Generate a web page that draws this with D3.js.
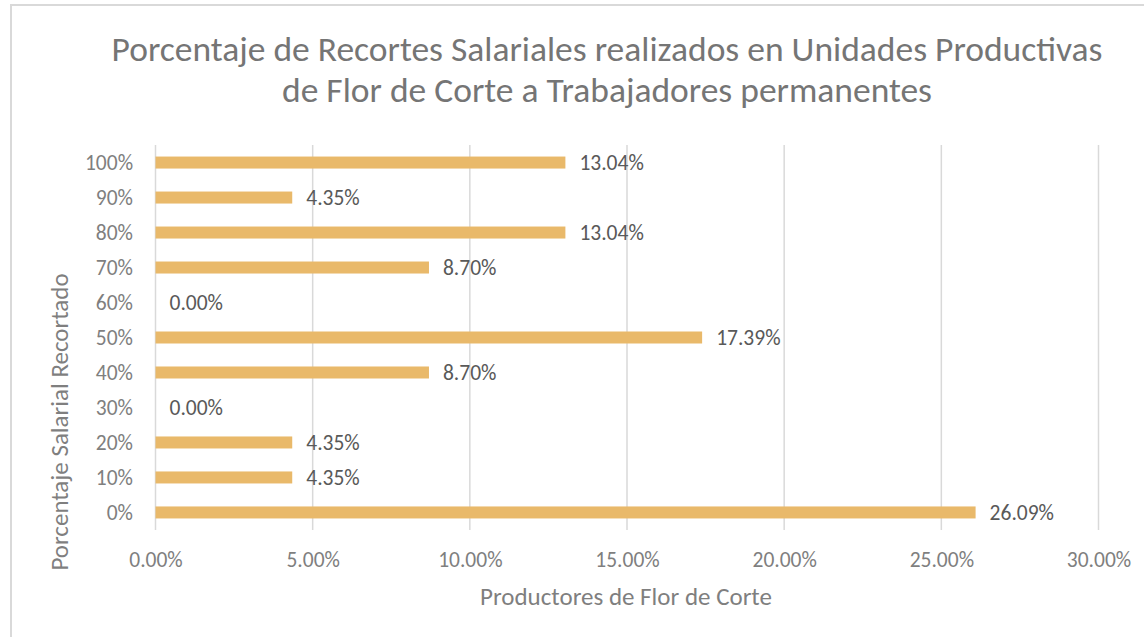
<!DOCTYPE html>
<html>
<head>
<meta charset="utf-8">
<script src="https://cdn.jsdelivr.net/npm/d3@7"></script>
<style>
  body { margin: 0; background: #fff; }
  svg text { font-family: Carlito, Calibri, Lato, sans-serif; }
</style>
</head>
<body>
<script>
var categories = ['0%','10%','20%','30%','40%','50%','60%','70%','80%','90%','100%'];
var values = [26.09, 4.35, 4.35, 0, 8.70, 17.39, 0, 8.70, 13.04, 4.35, 13.04];
var xTicks = [0, 5, 10, 15, 20, 25, 30];
var titleLines = ['Porcentaje de Recortes Salariales realizados en Unidades Productivas',
                  'de Flor de Corte a Trabajadores permanentes'];

var W = 1144, H = 637;
var svg = d3.select('body').append('svg').attr('width', W).attr('height', H);

// chart border
svg.append('rect').attr('x', 11).attr('y', 5).attr('width', W + 10).attr('height', H + 10)
  .style('fill', '#fff').style('stroke', '#d9d9d9').style('stroke-width', 2);

var plotL = 155.5, plotR = 1098.5, plotT = 145, plotB = 530;

var x = d3.scaleLinear().domain([0, 30]).range([plotL, plotR]);
var y = d3.scaleBand().domain(categories.slice().reverse()).range([plotT, plotB])
  .paddingInner(0.657).paddingOuter(0.33);

// gridlines
svg.selectAll('.grid').data(xTicks).enter().append('line')
  .attr('x1', function(d){ return x(d); }).attr('x2', function(d){ return x(d); })
  .attr('y1', plotT).attr('y2', plotB)
  .style('stroke', '#d9d9d9').style('stroke-width', 1.5);

// bars
svg.selectAll('.bar').data(values).enter().append('rect')
  .attr('x', x(0))
  .attr('y', function(d, i){ return y(categories[i]); })
  .attr('width', function(d){ return x(d) - x(0); })
  .attr('height', y.bandwidth())
  .style('fill', '#e9b96a');

// data labels
svg.selectAll('.lbl').data(values).enter().append('text')
  .attr('x', function(d){ return x(d) + 14; })
  .attr('y', function(d, i){ return y(categories[i]) + y.bandwidth() / 2; })
  .attr('dy', '0.36em')
  .style('font-size', '21.5px').style('fill', '#595959')
  .text(function(d){ return d.toFixed(2) + '%'; });

// y axis labels
var yAxis = d3.axisLeft(y).tickSize(0).tickPadding(22.5);
var gy = svg.append('g').attr('transform', 'translate(' + plotL + ',0)').call(yAxis);
gy.select('.domain').remove();
gy.selectAll('text').attr('dy', '0.36em').style('font-size', '21.5px').style('fill', '#7f7f7f')
  .style('font-family', 'Carlito, Calibri, Lato, sans-serif');

// x axis labels
var xAxis = d3.axisBottom(x).tickValues(xTicks).tickSize(0).tickPadding(0)
  .tickFormat(function(d){ return d.toFixed(2) + '%'; });
var gx = svg.append('g').attr('transform', 'translate(0,' + bottomBase() + ')').call(xAxis);
gx.select('.domain').remove();
gx.selectAll('text').attr('y', 0).attr('dy', 0).style('font-size', '21.5px').style('fill', '#7f7f7f')
  .style('font-family', 'Carlito, Calibri, Lato, sans-serif');
function bottomBase(){ return 567; }

// title
svg.selectAll('.title').data(titleLines).enter().append('text')
  .attr('x', 607).attr('y', function(d, i){ return 61 + i * 41; })
  .attr('text-anchor', 'middle')
  .style('font-size', '35.5px').style('fill', '#757575')
  .text(function(d){ return d; });

// axis titles
svg.append('text').attr('x', 626).attr('y', 605).attr('text-anchor', 'middle')
  .style('font-size', '25px').style('fill', '#7f7f7f')
  .text('Productores de Flor de Corte');

svg.append('text').attr('transform', 'translate(68,422) rotate(-90)').attr('text-anchor', 'middle')
  .style('font-size', '25px').style('fill', '#7f7f7f')
  .text('Porcentaje Salarial Recortado');
</script>
</body>
</html>
